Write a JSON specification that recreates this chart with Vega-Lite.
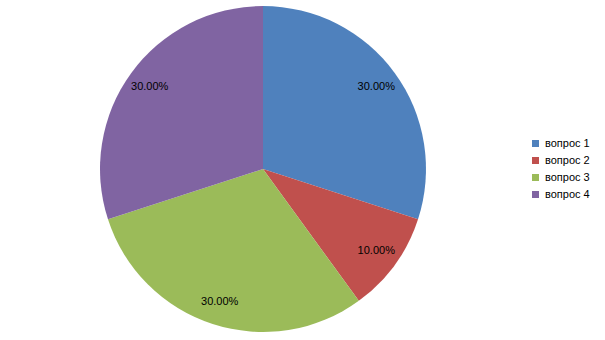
{
  "$schema": "https://vega.github.io/schema/vega-lite/v6.json",
  "width": 526,
  "height": 338,
  "padding": 0,
  "background": "white",
  "view": {"stroke": null},
  "data": {
    "values": [
      {"q": "вопрос 1", "share": 0.3},
      {"q": "вопрос 2", "share": 0.1},
      {"q": "вопрос 3", "share": 0.3},
      {"q": "вопрос 4", "share": 0.3}
    ]
  },
  "encoding": {
    "theta": {"field": "share", "type": "quantitative", "stack": true},
    "order": {"field": "q", "sort": "ascending"}
  },
  "layer": [
    {
      "mark": {"type": "arc", "outerRadius": 163},
      "encoding": {
        "color": {
          "field": "q",
          "type": "nominal",
          "scale": {"range": ["#4F81BD", "#C0504D", "#9BBB59", "#8064A2"]},
          "legend": {
            "title": null,
            "orient": "none",
            "legendX": 530,
            "legendY": 138,
            "symbolType": "square",
            "symbolSize": 49,
            "symbolStrokeWidth": 0,
            "labelFont": "Liberation Sans",
            "labelFontSize": 11,
            "labelColor": "#000000",
            "rowPadding": 5,
            "labelOffset": 4
          }
        }
      }
    },
    {
      "mark": {"type": "text", "radius": 140, "font": "Liberation Sans", "fontSize": 11, "color": "#000000"},
      "encoding": {
        "text": {"field": "share", "type": "quantitative", "format": ".2%"}
      }
    }
  ]
}
